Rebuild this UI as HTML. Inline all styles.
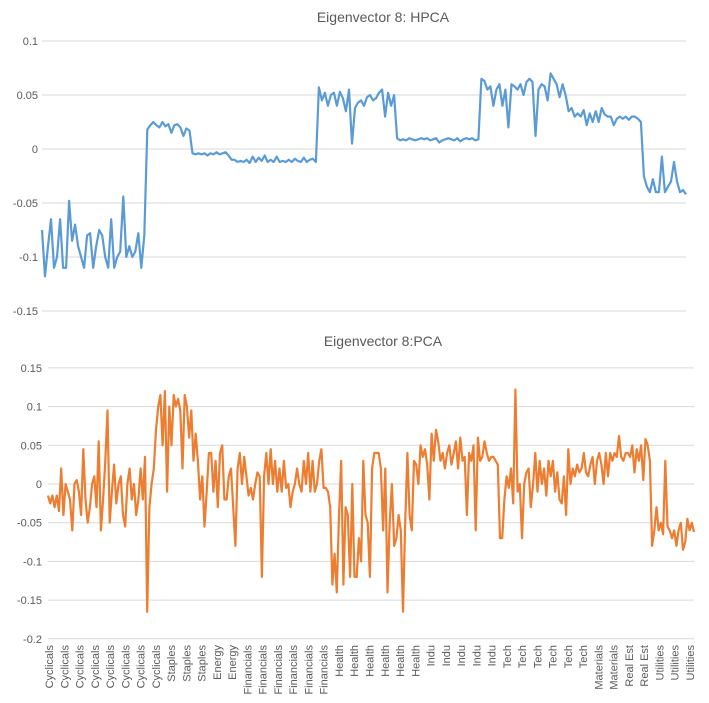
<!DOCTYPE html>
<html><head><meta charset="utf-8">
<style>body{margin:0;background:#fff}svg{display:block}text{font-family:"Liberation Sans",sans-serif;fill:#595959}</style>
</head><body>
<svg id="c" width="709" height="703" xmlns="http://www.w3.org/2000/svg">
<text x="383" y="22" font-size="14" text-anchor="middle">Eigenvector 8: HPCA</text>
<text x="383" y="346" font-size="14" text-anchor="middle">Eigenvector 8:PCA</text>
</svg>
<script>
const topTicks=[0.1,0.05,0,-0.05,-0.1,-0.15];
const topTickLabels=["0.1","0.05","0","-0.05","-0.1","-0.15"];
const botTicks=[0.15,0.1,0.05,0,-0.05,-0.1,-0.15,-0.2];
const botTickLabels=["0.15","0.1","0.05","0","-0.05","-0.1","-0.15","-0.2"];
const categories=["Cyclicals","Cyclicals","Cyclicals","Cyclicals","Cyclicals","Cyclicals","Cyclicals","Cyclicals","Staples","Staples","Staples","Energy","Energy","Financials","Financials","Financials","Financials","Financials","Financials","Health","Health","Health","Health","Health","Health","Indu","Indu","Indu","Indu","Indu","Tech","Tech","Tech","Tech","Tech","Tech","Materials","Materials","Real Est","Real Est","Utilities","Utilities","Utilities"];
const hpca=[
-0.075,-0.118,-0.09,-0.065,-0.11,-0.1,-0.065,-0.11,-0.11,-0.048,-0.085,-0.07,-0.09,-0.1,-0.11,-0.08,-0.078,-0.11,-0.09,-0.075,-0.08,-0.1,-0.11,-0.065,-0.11,-0.1,-0.095,-0.044,-0.1,-0.09,-0.1,-0.095,-0.078,-0.11,-0.08,
0.018,0.022,0.025,0.022,0.02,0.025,0.021,0.023,0.015,0.022,0.023,0.02,0.012,0.019,0.017,
-0.004,-0.005,-0.004,-0.005,-0.004,-0.006,-0.004,-0.005,-0.003,-0.005,-0.004,-0.003,-0.006,-0.01,
-0.01,-0.012,-0.011,-0.012,-0.01,-0.013,-0.007,-0.012,-0.008,-0.011,-0.006,-0.012,-0.01,-0.012,-0.007,-0.012,-0.011,-0.012,-0.01,-0.012,-0.009,-0.011,-0.012,-0.008,-0.012,-0.01,-0.009,-0.012,
0.057,0.045,0.052,0.04,0.05,0.052,0.04,0.053,0.047,0.035,0.055,0.005,0.038,0.043,0.045,0.04,0.048,0.05,0.045,0.047,0.052,0.055,0.03,0.052,0.04,0.05,
0.01,0.008,0.009,0.008,0.01,0.009,0.008,0.009,0.01,0.009,0.01,0.008,0.009,0.01,0.006,0.008,0.009,0.01,0.009,0.008,0.01,0.007,0.009,0.01,0.009,0.01,0.008,0.009,
0.065,0.063,0.055,0.058,0.04,0.055,0.06,0.04,0.055,0.02,0.06,0.058,0.055,0.06,0.05,0.062,0.065,0.062,0.012,0.055,0.06,0.058,0.045,0.07,0.065,0.06,0.048,0.06,0.05,
0.035,0.038,0.03,0.033,0.03,0.036,0.022,0.033,0.025,0.035,0.025,0.038,0.032,0.03,0.03,0.022,0.028,0.03,0.028,0.03,0.027,0.03,0.03,0.028,0.025,
-0.025,-0.035,-0.04,-0.028,-0.04,-0.04,-0.007,-0.04,-0.035,-0.03,-0.012,-0.03,-0.04,-0.038,-0.042];
const pca=[
-0.015,-0.025,-0.015,-0.03,-0.015,-0.035,0.02,-0.04,0.0,-0.01,-0.02,-0.06,0.0,0.005,-0.01,-0.04,0.045,-0.02,-0.05,-0.03,0.0,0.01,-0.03,0.055,-0.06,-0.02,0.03,0.095,-0.05,-0.01,0.025,-0.025,0.0,0.01,-0.04,-0.055,0.0,0.02,-0.02,0.0,-0.04,-0.02,0.02,-0.02,0.035,-0.165,
-0.03,0.0,0.02,0.07,0.1,0.115,0.05,0.12,-0.01,0.1,0.05,0.115,0.1,0.11,0.095,0.02,0.115,0.1,0.06,0.095,0.03,0.065,0.03,
-0.02,0.01,-0.055,-0.01,0.04,0.04,-0.01,0.03,-0.03,0.04,0.05,-0.02,-0.02,0.01,0.02,-0.03,-0.08,
0.02,0.04,0.0,0.035,0.01,-0.015,-0.005,-0.02,0.0,0.015,0.01,-0.12,0.01,0.04,0.0,0.045,0.0,0.03,-0.01,0.02,-0.01,0.03,-0.005,0.0,-0.03,-0.01,0.0,0.02,0.0,-0.01,0.03,0.0,0.04,-0.01,0.03,-0.01,0.0,0.03,0.045,
-0.005,-0.005,-0.01,-0.03,-0.13,-0.09,-0.14,-0.04,0.03,-0.13,-0.03,-0.04,-0.12,0.0,-0.12,-0.12,-0.07,-0.1,0.03,-0.04,-0.05,-0.12,0.02,0.04,0.04,0.04,0.02,-0.06,0.02,-0.14,-0.05,0.0,-0.08,-0.07,-0.04,-0.06,-0.165,-0.05,0.04,-0.04,-0.06,
0.03,0.025,0.0,0.05,0.035,0.045,0.025,-0.02,0.065,0.03,0.07,0.055,0.03,0.04,0.02,0.04,0.05,0.025,0.04,0.055,0.02,0.06,0.03,0.035,-0.04,0.04,0.03,0.05,-0.06,0.06,0.03,0.035,0.055,0.04,0.03,0.035,
0.035,0.03,0.025,-0.07,-0.07,-0.02,0.01,-0.005,0.02,-0.025,0.122,-0.01,0.0,-0.07,0.0,0.015,0.02,-0.03,0.0,0.04,-0.01,0.03,0.0,0.02,-0.015,0.03,0.01,0.03,-0.01,0.015,-0.02,-0.025,0.01,-0.04,0.045,0.0,
0.02,0.01,0.025,0.015,0.02,0.04,0.015,0.01,0.025,0.035,0.0,0.03,0.04,0.025,0.0,0.04,0.01,0.04,0.03,0.04,0.035,0.062,0.035,0.03,0.04,0.04,0.035,0.05,0.015,0.045,0.03,0.05,0.005,0.058,0.05,0.03,
-0.08,-0.06,-0.03,-0.06,-0.05,-0.065,0.03,-0.055,-0.06,-0.07,-0.06,-0.08,-0.06,-0.05,-0.085,-0.075,-0.045,-0.06,-0.05,-0.062];
const svg=document.getElementById('c');
const NS='http://www.w3.org/2000/svg';
function mk(t,a){const e=document.createElementNS(NS,t);for(const k in a)e.setAttribute(k,a[k]);svg.appendChild(e);return e;}
// top axis
const tx0=42,tx1=686;const ty=v=>149-v/0.05*54;
topTicks.forEach((v,i)=>{
 const g=mk('line',{x1:tx0,x2:tx1,y1:ty(v),y2:ty(v),stroke:'#d9d9d9','stroke-width':1});
 
 
 const t=mk('text',{x:38,y:ty(v)+4,'font-size':11,'text-anchor':'end'});t.textContent=topTickLabels[i];
 
 
});
const txs=i=>tx0+i*(tx1-tx0)/(hpca.length-1);
const p1=mk('path',{d:hpca.map((v,i)=>(i?'L':'M')+txs(i).toFixed(1)+' '+ty(v).toFixed(1)).join(''),fill:'none',stroke:'#5b9bd5','stroke-width':2.2,'stroke-linejoin':'round'});


// bottom axis
const bx0=48,bx1=694;const by=v=>484-v/0.05*38.7;
botTicks.forEach((v,i)=>{
 const g=mk('line',{x1:bx0,x2:bx1,y1:by(v),y2:by(v),stroke:'#d9d9d9','stroke-width':1});
 
 
 const t=mk('text',{x:42,y:by(v)+4,'font-size':11,'text-anchor':'end'});t.textContent=botTickLabels[i];
 
 
});
const bxs=i=>bx0+i*(bx1-bx0)/(pca.length-1);
const p2=mk('path',{d:pca.map((v,i)=>(i?'L':'M')+bxs(i).toFixed(1)+' '+by(v).toFixed(1)).join(''),fill:'none',stroke:'#ed7d31','stroke-width':2.2,'stroke-linejoin':'round'});


const lx=i=>49+i*(690-49)/(categories.length-1);
categories.forEach((c,i)=>{
 const x=lx(i)+4,y=645;
 const t=mk('text',{x:x,y:y,'font-size':11,'text-anchor':'end',transform:`rotate(-90 ${x} ${y})`});t.textContent=c;
 
 
});
</script>
</body></html>
